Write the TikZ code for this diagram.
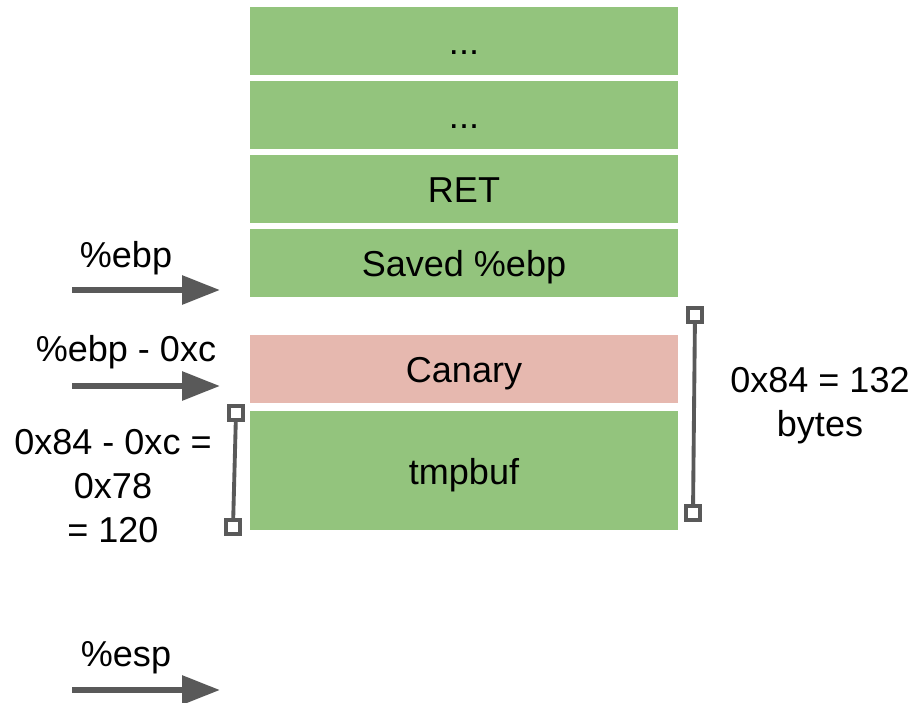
\documentclass[tikz,border=0pt]{standalone}
\usepackage{fontspec}
\setmainfont{Liberation Sans}
\usepackage{xcolor}
\usetikzlibrary{arrows.meta}
\definecolor{cellgreen}{HTML}{93C47D}
\definecolor{cellpink}{HTML}{E6B8AF}
\definecolor{ptrgray}{HTML}{595959}

\begin{document}
\begin{tikzpicture}[x=0.02cm, y=-0.02cm,
    every node/.style={font=\fontsize{20.5}{25}\selectfont},
    cell/.style={minimum width=8.56cm, minimum height=1.36cm, inner sep=0pt, fill=cellgreen,
        text height=19pt, text depth=3.4pt},
    ptr/.style={color=ptrgray, line width=0.12cm, -{Triangle[length=0.76cm, width=0.56cm]}},
    endsq/.style={draw=ptrgray, fill=white, line width=2pt, minimum size=0.27cm, inner sep=0pt},
    span/.style={draw=ptrgray, line width=2.2pt}]
            \useasboundingbox (0,0) rectangle (917,703);
            % stack cells
            \node[cell] (dots1) at (464,41) {...};
            \node[cell] (dots2) at (464,115) {...};
            \node[cell] (ret) at (464,189) {RET};
            \node[cell] (saved) at (464,263) {Saved \%ebp};
            \node[cell, fill=cellpink] (canary) at (464,369) {Canary};
            \node[cell, minimum height=2.38cm] (tmpbuf) at (464,470.5) {tmpbuf};
            % pointers
            \node (ebplbl) at (126,258) {\%ebp};
            \coordinate (ebpa) at (72,290);
            \coordinate (ebpb) at (220,290);
            \draw[ptr] (ebpa) -- (ebpb);
            \node (canlbl) at (126,352) {\%ebp - 0xc};
            \coordinate (cana) at (72,386);
            \coordinate (canb) at (220,386);
            \draw[ptr] (cana) -- (canb);
            \node (esplbl) at (126,658) {\%esp};
            \coordinate (espa) at (72,690);
            \coordinate (espb) at (220,690);
            \draw[ptr] (espa) -- (espb);
            % sizes
            \node[endsq] (rtop) at (695,315) {};
            \node[endsq] (rbot) at (693,513) {};
            \draw[span] (rtop) -- (rbot);
            \node[align=center] (rlbl) at (820,406) {0x84 = 132\\bytes};
            \node[endsq] (ltop) at (236,413) {};
            \node[endsq] (lbot) at (233,527) {};
            \draw[span] (ltop) -- (lbot);
            \node[align=center] (llbl) at (113,486) {0x84 - 0xc =\\0x78\\= 120};
        \end{tikzpicture}
\end{document}
